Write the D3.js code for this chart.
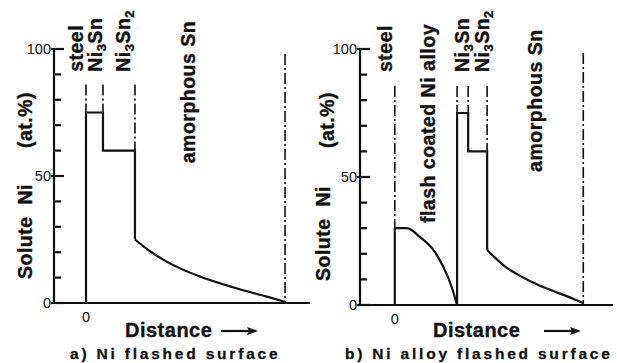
<meta charset="utf-8">
<style>
body { margin: 0; background: #fff; }
text { font-family: "Liberation Sans", Arial, Helvetica, sans-serif; fill: #111; }
.lbl { font-weight: bold; font-size: 19.5px; letter-spacing: 0.5px; stroke: #111; stroke-width: 0.35; }
.tick { font-size: 14.5px; }
.cap { font-weight: bold; font-size: 15.5px; letter-spacing: 2.8px; stroke: #111; stroke-width: 0.3; }
.axis { stroke: #111; stroke-width: 2.2; fill: none; }
.prof { stroke: #111; stroke-width: 2.2; fill: none; stroke-linejoin: miter; }
.bound { stroke: #111; stroke-width: 1.6; stroke-dasharray: 11,3,2,3; fill: none; }
</style>
<body>
<script src="https://cdnjs.cloudflare.com/ajax/libs/d3/7.8.5/d3.min.js"></script>
<script>

var width = 617;
var height = 363;

// y axis ticks (solute Ni, at.%)
var yMajor = [0, 50, 100];
var yMinor = [10, 20, 30, 40, 60, 70, 80, 90];

// a) Ni flashed surface
var aSteps = [[0, 0], [0, 75], [0.53, 75], [0.53, 60], [1.53, 60], [1.53, 25]];
var aDecay = [[1.53, 25], [1.93, 21], [2.52, 16.3], [3.56, 10.4], [4.59, 6.2], [5.65, 2.5], [6.22, 0.5]];
var aBounds = [[0, 86, 75], [0.53, 86, 75], [1.53, 86, 60], [6.22, 98, 0]];
var aLayers = ["steel", "Ni3Sn", "Ni3Sn2", "amorphous Sn"];
var aCaption = "a) Ni flashed surface";

// b) Ni alloy flashed surface
var bSteps1 = [[0, 0], [0, 30]];
var bFlash = [[0, 30], [0.38, 30], [0.8, 26.5], [1.22, 21.5], [1.53, 15], [1.8, 7], [1.97, 0]];
var bSteps2 = [[1.97, 0], [1.97, 75], [2.32, 75], [2.32, 60], [2.92, 60], [2.92, 21.5]];
var bDecay = [[2.92, 21.5], [3.49, 15], [4.02, 11], [4.54, 7.8], [5.07, 5.2], [5.6, 2.6], [5.96, 0.7]];
var bBounds = [[0, 85.5, 30], [1.97, 85.5, 75], [2.32, 85.5, 75], [2.92, 85.5, 60], [5.96, 98.4, 0]];
var bLayers = ["steel", "flash coated Ni alloy", "Ni3Sn", "Ni3Sn2", "amorphous Sn"];
var bCaption = "b) Ni alloy flashed surface";

var xLabel = "Distance";
var yLabel1 = "Solute Ni";
var yLabel2 = "(at.%)";

// layout of each panel
var panels = [
  { xr: [54, 310], xd: [-1, 7], yr: [303, 49],
    steps: [aSteps], curves: [aDecay], bounds: aBounds, layers: aLayers, caption: aCaption,
    layerPos: [[-0.31, 91], [0.28, 91], [1.16, 91], [3.19, 55]],
    yl1: [32, 279], yl2: [32, 120], dist: 125, arrow: 221, cap: 70, zero: 85 },
  { xr: [360, 613], xd: [-1.1, 6.9], yr: [305, 49],
    steps: [bSteps1, bSteps2], curves: [bFlash, bDecay], bounds: bBounds, layers: bLayers, caption: bCaption,
    layerPos: [[-0.31, 91], [1.05, 32], [2.13, 91], [2.75, 91], [4.44, 52]],
    yl1: [330, 281], yl2: [334, 120], dist: 433, arrow: 544, cap: 345, zero: 392 }
];

var svg = d3.select("body").append("svg")
    .attr("width", width)
    .attr("height", height);

panels.forEach(function(p) {
  var x = d3.scaleLinear().domain(p.xd).range(p.xr);
  var y = d3.scaleLinear().domain([0, 100]).range(p.yr);
  var g = svg.append("g");
  var x0 = p.xr[0];

  // axes
  g.append("path").attr("class", "axis")
      .attr("d", "M" + x0 + "," + y(100) + "V" + y(0) + "H" + p.xr[1]);

  g.selectAll(".minor").data(yMinor).enter().append("line")
      .attr("class", "axis").attr("stroke-width", 1.6)
      .attr("x1", x0).attr("x2", x0 + 7)
      .attr("y1", function(d) { return y(d); })
      .attr("y2", function(d) { return y(d); });

  g.selectAll(".major").data(yMajor).enter().append("line")
      .attr("class", "axis").attr("stroke-width", 1.6)
      .attr("x1", x0 - 3).attr("x2", x0 + 10)
      .attr("y1", function(d) { return y(d); })
      .attr("y2", function(d) { return y(d); });

  g.selectAll(".tl").data(yMajor).enter().append("text")
      .attr("class", "tick")
      .attr("x", x0 - 3)
      .attr("y", function(d) { return y(d); })
      .attr("dy", "0.36em")
      .attr("text-anchor", "end")
      .text(function(d) { return d; });

  g.append("text").attr("class", "tick")
      .attr("x", x(0)).attr("y", y(0) + 19)
      .attr("text-anchor", "middle")
      .text("0");

  // boundary lines
  g.selectAll(".bound").data(p.bounds).enter().append("line")
      .attr("class", "bound")
      .attr("x1", function(d) { return x(d[0]); })
      .attr("x2", function(d) { return x(d[0]); })
      .attr("y1", function(d) { return y(d[1]); })
      .attr("y2", function(d) { return y(d[2]); });

  // profile
  var straight = d3.line().x(function(d) { return x(d[0]); }).y(function(d) { return y(d[1]); });
  var smooth = d3.line().x(function(d) { return x(d[0]); }).y(function(d) { return y(d[1]); })
      .curve(d3.curveMonotoneX);
  p.steps.forEach(function(s) {
    g.append("path").attr("class", "prof").attr("d", straight(s));
  });
  p.curves.forEach(function(c) {
    g.append("path").attr("class", "prof").attr("d", smooth(c));
  });

  // layer labels
  p.layers.forEach(function(name, i) {
    var pos = p.layerPos[i];
    var t = g.append("text").attr("class", "lbl")
        .attr("transform", "translate(" + x(pos[0]) + "," + y(pos[1]) + ") rotate(-90)")
        .attr("dy", "0.35em");
    var m = name.match(/^Ni3Sn(2?)$/);
    if (m) {
      t.append("tspan").text("Ni");
      t.append("tspan").attr("font-size", "13px").attr("dy", 4).text("3");
      t.append("tspan").attr("dy", -4).text("Sn");
      if (m[1]) t.append("tspan").attr("font-size", "13px").attr("dy", 4).text("2");
    } else {
      t.text(name);
    }
  });

  // axis titles
  g.append("text").attr("class", "lbl")
      .attr("transform", "translate(" + p.yl1[0] + "," + p.yl1[1] + ") rotate(-90)")
      .attr("word-spacing", "6px")
      .text(yLabel1);
  g.append("text").attr("class", "lbl")
      .attr("transform", "translate(" + p.yl2[0] + "," + p.yl2[1] + ") rotate(-90)")
      .attr("text-anchor", "middle")
      .text(yLabel2);

  g.append("text").attr("class", "lbl")
      .attr("x", p.dist).attr("y", 337)
      .style("font-size", "20px")
      .text(xLabel);

  var ax = p.arrow;
  g.append("line").attr("class", "axis").attr("stroke-width", 2)
      .attr("x1", ax).attr("x2", ax + 29).attr("y1", 331).attr("y2", 331);
  g.append("path").attr("fill", "#111")
      .attr("d", "M" + (ax + 37) + ",331L" + (ax + 26) + ",327L" + (ax + 28) + ",331L" + (ax + 26) + ",335Z");

  g.append("text").attr("class", "cap")
      .attr("x", p.cap).attr("y", 359)
      .text(p.caption);
});

</script>
